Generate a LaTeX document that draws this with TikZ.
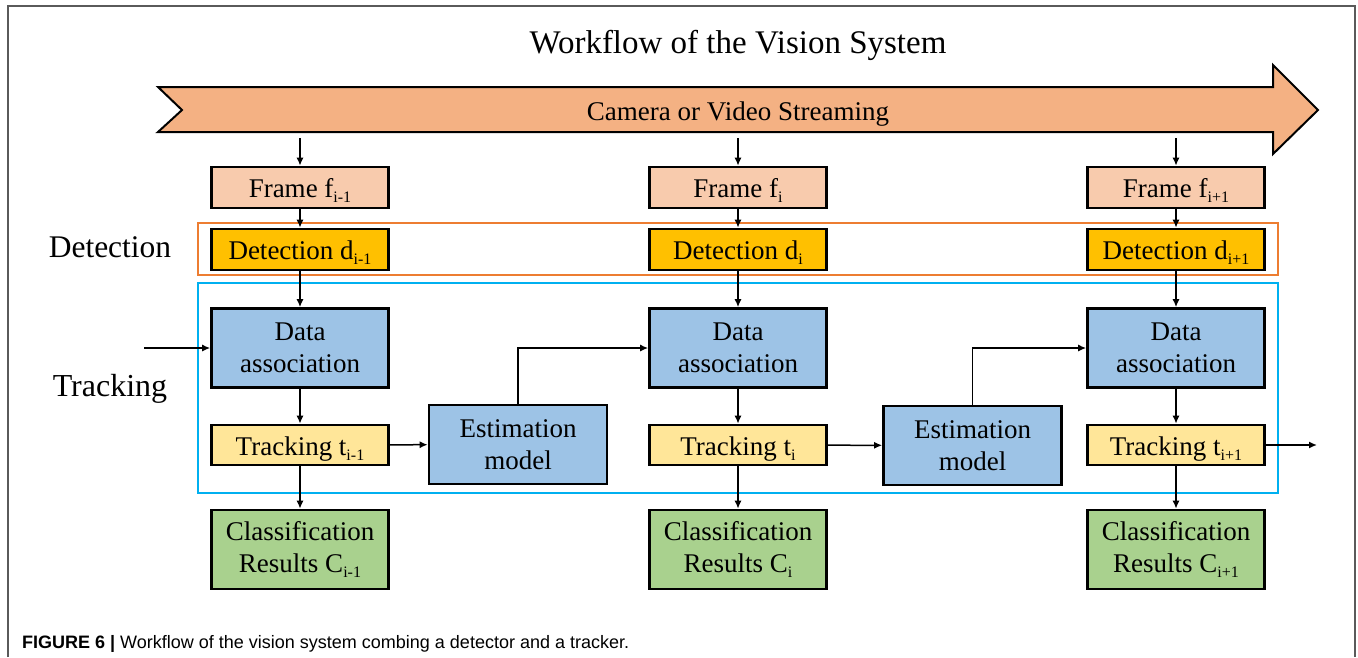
\documentclass[tikz,border=0pt]{standalone}
\usepackage{fontspec}
\setmainfont{Liberation Serif}
\newfontfamily\capfont{Liberation Sans}
\usetikzlibrary{arrows.meta}
\definecolor{bannerfill}{HTML}{F4B183}
\definecolor{framefill}{HTML}{F8CBAD}
\definecolor{detfill}{HTML}{FFC000}
\definecolor{procfill}{HTML}{9DC3E6}
\definecolor{trackfill}{HTML}{FFE699}
\definecolor{classfill}{HTML}{A9D18E}
\definecolor{detzone}{HTML}{ED7D31}
\definecolor{trackzone}{HTML}{00B0F0}
\definecolor{borderg}{HTML}{5A5A5A}
% index subscript set a little larger than the default
\newcommand{\sbs}[1]{\raisebox{-5pt}{\fontsize{16}{16}\selectfont #1}}
\tikzset{
  box/.style={draw=black, line width=2.6pt, minimum width=177pt, inner sep=0pt,
    align=center, font=\fontsize{27}{32}\selectfont},
  oneline/.style={text height=23.5pt, text depth=3pt},
  framebox/.style={box, oneline, fill=framefill, minimum height=41pt},
  detbox/.style={box, oneline, fill=detfill, minimum height=41pt},
  procbox/.style={box, fill=procfill, minimum height=79pt},
  trackbox/.style={box, oneline, fill=trackfill, minimum height=40pt},
  classbox/.style={box, fill=classfill, minimum height=79pt},
  flow/.style={line width=1.5pt, -{Latex[length=8pt,width=7pt]}},
  zone/.style={line width=1.8pt},
  sidelabel/.style={anchor=base},
}
\begin{document}
\begin{tikzpicture}[x=1pt, y=-1pt]
\useasboundingbox (0,0) rectangle (1358,657);

% outer frame, open at the bottom
\draw[borderg, line width=1.5pt] (8,657) -- (8,6) -- (1355,6) -- (1355,657);

% title
\node[anchor=base, font=\fontsize{33}{38}\selectfont] (title) at (738,53) {Workflow of the Vision System};

% streaming banner
\draw[fill=bannerfill, line width=2pt, line join=miter]
  (158,87) -- (1273,87) -- (1273,65) -- (1318,110) -- (1273,154) -- (1273,132)
  -- (158,132) -- (182,110) -- cycle;
\node[anchor=base, font=\fontsize{27}{32}\selectfont] (stream) at (738,120) {Camera or Video Streaming};

% detection and tracking zones
\draw[detzone, zone] (198,223) rectangle (1278,275);
\draw[trackzone, zone] (198,283) rectangle (1278,493);
\node[sidelabel, font=\fontsize{31.5}{36}\selectfont] (lbldet) at (110,257) {Detection};
\node[sidelabel, font=\fontsize{32}{36}\selectfont] (lbltrk) at (110,396) {Tracking};

% per-frame columns
\foreach \n/\x/\s in {1/300/i-1, 2/738/i, 3/1176/i+1}{
  \coordinate (src\n) at (\x,138);
  \node[framebox] (fr\n) at (\x,187.5) {Frame f\sbs{\s}};
  \node[detbox]   (dt\n) at (\x,249.5) {Detection d\sbs{\s}};
  \node[procbox]  (da\n) at (\x,348)   {Data\\association};
  \node[trackbox] (tr\n) at (\x,445)   {Tracking t\sbs{\s}};
  \node[classbox] (cl\n) at (\x,549.5) {Classification\\Results C\sbs{\s}};
  \draw[flow] (src\n) -- (fr\n.north);
  \draw[flow] (fr\n) -- (dt\n);
  \draw[flow] (dt\n) -- (da\n);
  \draw[flow] (da\n) -- (tr\n);
  \draw[flow] (tr\n) -- (cl\n);
}

% estimation models between frames
\node[procbox, minimum width=178pt] (em1) at (518,444.5) {Estimation\\model};
\node[procbox, minimum width=178pt] (em2) at (972.5,445.5) {Estimation\\model};
\draw[flow] (tr1) -- (em1);
\draw[flow] (tr2) -- (em2);
\draw[flow] (em1.north) |- (da2.west);
\draw[flow] (em2.north) |- (da3.west);

% incoming and outgoing tracks
\coordinate (tin) at (144,348);
\coordinate (tout) at (1317,445);
\draw[flow] (tin) -- (da1.west);
\draw[flow] (tr3.east) -- (tout);

% caption
\node[anchor=base west, font=\capfont\fontsize{18}{21}\selectfont, inner sep=0pt] (caption) at (22,648)
  {\textbf{FIGURE 6 |} Workflow of the vision system combing a detector and a tracker.};
\end{tikzpicture}
\end{document}
